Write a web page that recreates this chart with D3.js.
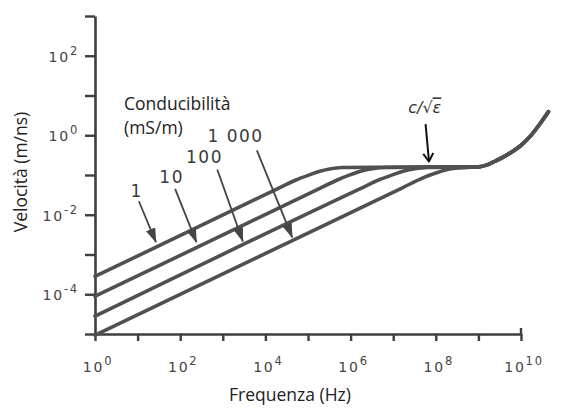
<!DOCTYPE html>
<html>
<head>
<meta charset="utf-8">
<script src="https://cdn.jsdelivr.net/npm/d3@7"></script>
<style>
  body { margin: 0; background: #fff; }
  svg { display: block; }
</style>
</head>
<body>
<svg id="chart" width="568" height="410"></svg>
<script>
'use strict'

// frequency ticks (Hz) and velocity ticks (m/ns), every decade
var xTicks = [1, 1e1, 1e2, 1e3, 1e4, 1e5, 1e6, 1e7, 1e8, 1e9, 1e10]
var yTicks = [1e-5, 1e-4, 1e-3, 1e-2, 1e-1, 1, 1e1, 1e2, 1e3]
var xLabelExp = [0, 2, 4, 6, 8, 10]
var yLabelExp = [2, 0, -2, -4]

// conductivity curves (f in Hz, v in m/ns)
var cond1_f = [1, 1.6e4, 5.2e4, 1e5, 1.8e5, 3.2e5, 6.3e5]
var cond1_v = [2.8e-4, 0.041, 0.075, 0.098, 0.122, 0.142, 0.155]
var cond10_f = [1, 1.6e5, 5e5, 1e6, 1.8e6, 3.2e6, 6.3e6]
var cond10_v = [8.9e-5, 0.042, 0.076, 0.102, 0.126, 0.143, 0.155]
var cond100_f = [1, 1.6e6, 5e6, 1e7, 1.8e7, 3.2e7, 6.3e7]
var cond100_v = [2.8e-5, 0.044, 0.078, 0.102, 0.126, 0.143, 0.155]
var cond1000_f = [1, 1.6e7, 5e7, 1e8, 1.6e8, 2.8e8, 5.6e8]
var cond1000_v = [9.3e-6, 0.047, 0.085, 0.112, 0.132, 0.148, 0.155]

// common plateau c/sqrt(eps) and high frequency rise
var tail_f = [1e9, 1.6e9, 2.5e9, 4e9, 5.6e9, 1e10, 1.6e10, 2.8e10, 4.4e10]
var tail_v = [0.16, 0.18, 0.225, 0.29, 0.36, 0.56, 0.91, 1.95, 3.9]

var condLabels = ["1", "10", "100", "1 000"]
// label position and arrow tail/tip, as log10(f), log10(v)
var condLabelPos = [[0.98, -1.55], [1.8, -1.2], [2.57, -0.7], [3.3, -0.17]]
var condArrowFrom = [[1.03, -1.66], [1.88, -1.35], [2.87, -0.86], [3.8, -0.38]]
var condArrowTo = [[1.43, -2.69], [2.38, -2.69], [3.47, -2.67], [4.63, -2.57]]

var epsLabelPos = [7.74, 0.55]
var epsArrowFrom = [7.76, 0.28]
var epsArrowTo = [7.84, -0.66]

var svg = d3.select("#chart")

var x = d3.scaleLog().domain([1, 1e10]).range([95, 521])
var y = d3.scaleLog().domain([1e-5, 1e3]).range([334, 16])
var lx = d3.scaleLinear().domain([0, 10]).range([95, 521])
var ly = d3.scaleLinear().domain([-5, 3]).range([334, 16])

var axisColor = "#3e3e3e"
var lineColor = "#505050"
var titleFont = "Open Sans"

var defs = svg.append("defs")
defs.append("marker")
    .attr("id", "head")
    .attr("viewBox", "0 0 15 10")
    .attr("refX", 14).attr("refY", 5)
    .attr("markerWidth", 15).attr("markerHeight", 10)
    .attr("markerUnits", "userSpaceOnUse")
    .attr("orient", "auto")
  .append("path")
    .attr("d", "M0,0L15,5L0,10Z")
    .attr("fill", "#454545")
defs.append("marker")
    .attr("id", "vhead")
    .attr("viewBox", "0 0 10 12")
    .attr("refX", 9).attr("refY", 6)
    .attr("markerWidth", 10).attr("markerHeight", 12)
    .attr("markerUnits", "userSpaceOnUse")
    .attr("orient", "auto")
  .append("path")
    .attr("d", "M1,1L9,6L1,11")
    .attr("fill", "none")
    .attr("stroke", "#111")
    .attr("stroke-width", 2)

// axes
var gx = svg.append("g")
    .attr("transform", "translate(0," + y(1e-5) + ")")
    .call(d3.axisBottom(x).tickValues(xTicks).tickSize(7).tickSizeOuter(0).tickFormat(""))
var gy = svg.append("g")
    .attr("transform", "translate(" + x(1) + ",0)")
    .call(d3.axisLeft(y).tickValues(yTicks).tickSize(10).tickSizeOuter(0).tickFormat(""))

;[gx, gy].forEach(function(g) {
  g.select(".domain").attr("stroke", axisColor).attr("stroke-width", 2.6)
  g.selectAll(".tick line").attr("stroke", axisColor).attr("stroke-width", 2.4)
})
// small upward end mark at 10^10
svg.append("line")
    .attr("x1", x(1e10)).attr("x2", x(1e10))
    .attr("y1", y(1e-5)).attr("y2", y(1e-5) - 6)
    .attr("stroke", axisColor).attr("stroke-width", 2.4)

function powLabel(sel, exp) {
  sel.append("tspan").text("10")
  sel.append("tspan")
      .attr("dy", -7)
      .attr("font-size", 11.5)
      .text(exp)
}

svg.selectAll(".xlab")
  .data(xLabelExp)
  .enter().append("text")
    .attr("class", "xlab")
    .attr("x", function(d) { return lx(d) + 3 })
    .attr("y", y(1e-5) + 38)
    .attr("text-anchor", "middle")
    .attr("font-family", "DejaVu Sans")
    .attr("font-size", 14)
    .attr("letter-spacing", 1.8)
    .attr("fill", "#444")
    .each(function(d) { powLabel(d3.select(this), d) })

svg.selectAll(".ylab")
  .data(yLabelExp)
  .enter().append("text")
    .attr("class", "ylab")
    .attr("x", 79)
    .attr("y", function(d) { return ly(d) + 6 })
    .attr("text-anchor", "end")
    .attr("font-family", "DejaVu Sans")
    .attr("font-size", 14)
    .attr("letter-spacing", 1.8)
    .attr("fill", "#444")
    .each(function(d) { powLabel(d3.select(this), d) })

// axis titles
svg.append("text")
    .attr("x", 290).attr("y", 401)
    .attr("text-anchor", "middle")
    .attr("font-family", titleFont)
    .attr("font-size", 17.5)
    .attr("fill", "#222")
    .text("Frequenza (Hz)")
svg.append("text")
    .attr("transform", "translate(27,172) rotate(-90)")
    .attr("text-anchor", "middle")
    .attr("font-family", titleFont)
    .attr("font-size", 17.5)
    .attr("fill", "#222")
    .text("Velocità (m/ns)")

// curves
var line = d3.line()
    .x(function(d) { return x(d[0]) })
    .y(function(d) { return y(d[1]) })
    .curve(d3.curveMonotoneX)

var series = [
  [cond1_f, cond1_v],
  [cond10_f, cond10_v],
  [cond100_f, cond100_v],
  [cond1000_f, cond1000_v]
]
series.forEach(function(s) {
  var pts = d3.zip(s[0], s[1])
  var last = s[0][s[0].length - 1]
  d3.zip(tail_f, tail_v).forEach(function(p) {
    if (p[0] > last) pts.push(p)
  })
  svg.append("path")
      .attr("d", line(pts))
      .attr("fill", "none")
      .attr("stroke", lineColor)
      .attr("stroke-width", 3.6)
      .attr("stroke-linecap", "round")
})

// conductivity annotation
svg.append("text")
    .attr("x", 124).attr("y", 110)
    .attr("font-family", titleFont)
    .attr("font-size", 17.5)
    .attr("fill", "#222")
    .text("Conducibilità")
svg.append("text")
    .attr("x", 124).attr("y", 134)
    .attr("font-family", titleFont)
    .attr("font-size", 17.5)
    .attr("fill", "#222")
    .text("(mS/m)")

condLabels.forEach(function(lab, i) {
  svg.append("text")
      .attr("x", lx(condLabelPos[i][0]))
      .attr("y", ly(condLabelPos[i][1]))
      .attr("text-anchor", "middle")
      .attr("font-family", "DejaVu Sans")
      .attr("font-size", 17)
      .attr("letter-spacing", 1.5)
      .attr("fill", "#3a3a3a")
      .text(lab)
  svg.append("line")
      .attr("x1", lx(condArrowFrom[i][0])).attr("y1", ly(condArrowFrom[i][1]))
      .attr("x2", lx(condArrowTo[i][0])).attr("y2", ly(condArrowTo[i][1]))
      .attr("stroke", "#454545")
      .attr("stroke-width", 1.8)
      .attr("marker-end", "url(#head)")
})

// c / sqrt(eps)
var eps = svg.append("text")
    .attr("x", lx(epsLabelPos[0]))
    .attr("y", ly(epsLabelPos[1]))
    .attr("text-anchor", "middle")
    .attr("font-family", "DejaVu Sans")
    .attr("font-style", "italic")
    .attr("font-size", 16)
    .attr("fill", "#333")
eps.append("tspan").text("c/√")
eps.append("tspan").style("text-decoration", "overline").text("ε")

svg.append("line")
    .attr("x1", lx(epsArrowFrom[0])).attr("y1", ly(epsArrowFrom[1]))
    .attr("x2", lx(epsArrowTo[0])).attr("y2", ly(epsArrowTo[1]))
    .attr("stroke", "#111")
    .attr("stroke-width", 2)
    .attr("marker-end", "url(#vhead)")
</script>
</body>
</html>
